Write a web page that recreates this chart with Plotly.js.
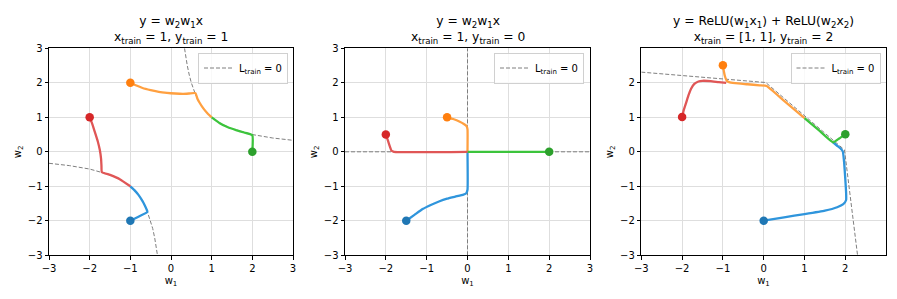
<!DOCTYPE html>
<html><head><meta charset="utf-8">
<script src="https://cdn.plot.ly/plotly-3.0.1.min.js"></script>
<style>html,body{margin:0;padding:0;background:#fff}#c{width:897px;height:299px}</style>
</head><body><div id="c"></div>
<script>
// ---------- Panel 1: y = w2 w1 x, x=1, y=1 ----------
const p1_zero_w1 = [0.333,0.36,0.4,0.45,0.5,0.6,0.7,0.8,1,1.25,1.5,2,2.5,3, null, -3,-2.5,-2,-1.5,-1.25,-1,-0.8,-0.7,-0.6,-0.5,-0.45,-0.4,-0.36,-0.333];
const p1_zero_w2 = [3,2.778,2.5,2.222,2,1.667,1.429,1.25,1,0.8,0.667,0.5,0.4,0.333, null, -0.333,-0.4,-0.5,-0.667,-0.8,-1,-1.25,-1.429,-1.667,-2,-2.222,-2.5,-2.778,-3];
const p1_blue_w1 = [-1,-0.8,-0.58,-0.6,-0.65,-0.7,-0.8,-0.9,-1];
const p1_blue_w2 = [-2,-1.88,-1.74,-1.67,-1.54,-1.43,-1.25,-1.11,-1];
const p1_orange_w1 = [-1,-0.85,-0.7,-0.5,-0.3,-0.1,0.1,0.3,0.45,0.6,0.65,0.7,0.8,0.9,1];
const p1_orange_w2 = [2,1.92,1.85,1.79,1.74,1.71,1.69,1.68,1.69,1.7,1.54,1.43,1.25,1.11,1];
const p1_green_w1 = [2,2,1.8,1.6,1.4,1.2,1];
const p1_green_w2 = [0,0.48,0.56,0.63,0.71,0.83,1];
const p1_red_w1 = [-2,-1.95,-1.88,-1.8,-1.75,-1.72,-1.71,-1.7,-1.5,-1.25,-1];
const p1_red_w2 = [1,0.85,0.6,0.3,0.05,-0.2,-0.4,-0.59,-0.67,-0.8,-1];

// ---------- Panel 2: y = w2 w1 x, x=1, y=0 ----------
const p2_zero_w1 = [-3,3,null,0,0];
const p2_zero_w2 = [0,0,null,-3,3];
const p2_blue_w1 = [-1.5,-1.3,-1.1,-0.9,-0.7,-0.5,-0.3,-0.1,-0.03,0,0];
const p2_blue_w2 = [-2,-1.83,-1.66,-1.54,-1.44,-1.36,-1.3,-1.24,-1.2,-1.1,0];
const p2_orange_w1 = [-0.5,-0.35,-0.2,-0.08,-0.02,0,0];
const p2_orange_w2 = [1,0.95,0.88,0.8,0.74,0.65,0];
const p2_green_w1 = [2,0];
const p2_green_w2 = [0,0];
const p2_red_w1 = [-2,-1.95,-1.9,-1.86,-1.8,0];
const p2_red_w2 = [0.5,0.33,0.15,0.03,0,0];

// ---------- Panel 3: y = ReLU(w1 x1) + ReLU(w2 x2), x=[1,1], y=2 ----------
const p3_zero_w1 = [-3,0.05,1.98,2.3];
const p3_zero_w2 = [2.3,2.0,0.05,-3];
const p3_blue_w1 = [0,0.5,1.0,1.5,1.8,1.95,2.02,2.02,2.0,1.97,1.94,1.9,1.8,1.7];
const p3_blue_w2 = [-2,-1.9,-1.81,-1.71,-1.61,-1.52,-1.4,-1.2,-0.8,-0.3,0.0,0.07,0.17,0.27];
const p3_orange_w1 = [-1,-0.98,-0.95,-0.91,-0.85,-0.7,-0.4,-0.1,0.07,0.5,1.0];
const p3_orange_w2 = [2.5,2.35,2.18,2.06,2.01,1.98,1.95,1.92,1.9,1.47,0.97];
const p3_green_w1 = [2,1.85,1.7,1.35,1.0];
const p3_green_w2 = [0.5,0.38,0.27,0.62,0.97];
const p3_red_w1 = [-2,-1.96,-1.9,-1.84,-1.78,-1.7,-1.6,-1.5,-1.3,-1.1,-0.92];
const p3_red_w2 = [1,1.2,1.42,1.64,1.82,1.96,2.03,2.05,2.04,2.01,1.99];

const titles = [
  "y = w<sub>2</sub>w<sub>1</sub>x<br>x<sub>train</sub> = 1, y<sub>train</sub> = 1",
  "y = w<sub>2</sub>w<sub>1</sub>x<br>x<sub>train</sub> = 1, y<sub>train</sub> = 0",
  "y = ReLU(w<sub>1</sub>x<sub>1</sub>) + ReLU(w<sub>2</sub>x<sub>2</sub>)<br>x<sub>train</sub> = [1, 1], y<sub>train</sub> = 2"
];
const legendLabel = "L<sub>train</sub> = 0";

const lineCol = {blue:'#2f95dc', orange:'#ffa040', green:'#3cc43c', red:'#e05656'};
const markCol = {blue:'#1f77b4', orange:'#ff7f0e', green:'#2ca02c', red:'#d62728'};

const panels = [
  {zero:[p1_zero_w1,p1_zero_w2], tr:{blue:[p1_blue_w1,p1_blue_w2], orange:[p1_orange_w1,p1_orange_w2], green:[p1_green_w1,p1_green_w2], red:[p1_red_w1,p1_red_w2]}},
  {zero:[p2_zero_w1,p2_zero_w2], tr:{blue:[p2_blue_w1,p2_blue_w2], orange:[p2_orange_w1,p2_orange_w2], green:[p2_green_w1,p2_green_w2], red:[p2_red_w1,p2_red_w2]}},
  {zero:[p3_zero_w1,p3_zero_w2], tr:{blue:[p3_blue_w1,p3_blue_w2], orange:[p3_orange_w1,p3_orange_w2], green:[p3_green_w1,p3_green_w2], red:[p3_red_w1,p3_red_w2]}}
];

const W = 897, H = 299;
const xdom = [[49/W,293/W],[345/W,590/W],[641.3/W,885.7/W]];
const ydom = [1-255.3/H, 1-48.3/H];
const legRight = [288/W, 584/W, 880.5/W];

const FONT = 'DejaVu Sans, sans-serif';
const data = [];
panels.forEach((p,i)=>{
  const sx = i===0?'':String(i+1);
  const xa = 'x'+sx, ya = 'y'+sx;
  data.push({x:p.zero[0], y:p.zero[1], xaxis:xa, yaxis:ya, mode:'lines', name:legendLabel,
    line:{color:'#7f7f7f', width:1, dash:'4px,2px'}, showlegend:true, legend: i===0?'legend':'legend'+(i+1), connectgaps:false, hoverinfo:'skip'});
  ['blue','orange','green','red'].forEach(c=>{
    const [a,b] = p.tr[c];
    data.push({x:a, y:b, xaxis:xa, yaxis:ya, mode:'lines', line:{color:lineCol[c], width:2.3, shape:'spline', smoothing:0.4}, showlegend:false});
  });
  ['blue','orange','green','red'].forEach(c=>{
    const [a,b] = p.tr[c];
    data.push({x:[a[0]], y:[b[0]], xaxis:xa, yaxis:ya, mode:'markers', marker:{color:markCol[c], size:8.5}, showlegend:false});
  });
});

const layout = {
  width:W, height:H, margin:{l:0,r:0,t:0,b:0}, paper_bgcolor:'#fff', plot_bgcolor:'#fff',
  font:{family:FONT, size:10, color:'#000'}, showlegend:true, annotations:[]
};
for (let i=0;i<3;i++){
  const sx = i===0?'':String(i+1);
  const xr = i===2?[-3,2.99]:[-3,3];
  const yr = i===2?[-3,2.99]:[-3,3];
  const common = {showline:true, mirror:true, linecolor:'#000', linewidth:1, ticks:'outside', ticklen:3.5, tickcolor:'#000',
    showgrid:true, gridcolor:'#dedede', gridwidth:1, zeroline:false, dtick:1, tick0:0, tickfont:{family:FONT,size:10}};
  layout['xaxis'+sx] = Object.assign({}, common, {domain:xdom[i], range:xr, anchor:'y'+sx,
    title:{text:'w<sub>1</sub>', font:{family:FONT,size:10}, standoff:4}});
  layout['yaxis'+sx] = Object.assign({}, common, {domain:ydom, range:yr, anchor:'x'+sx,
    title:{text:'w<sub>2</sub>', font:{family:FONT,size:10}, standoff:4}});
  layout[i===0?'legend':'legend'+(i+1)] = {x:legRight[i], y:1-52.5/H, xanchor:'right', yanchor:'top',
    bgcolor:'rgba(255,255,255,0.8)', bordercolor:'#d0d0d0', borderwidth:1, font:{family:FONT,size:10}, itemwidth:30, tracegroupgap:0};
  layout.annotations.push({text:titles[i], xref:'paper', yref:'paper', x:(xdom[i][0]+xdom[i][1])/2, y:1-12/H,
    xanchor:'center', yanchor:'top', showarrow:false, font:{family:FONT,size:12.3}});
}
Plotly.newPlot('c', data, layout, {staticPlot:true});
</script></body></html>
